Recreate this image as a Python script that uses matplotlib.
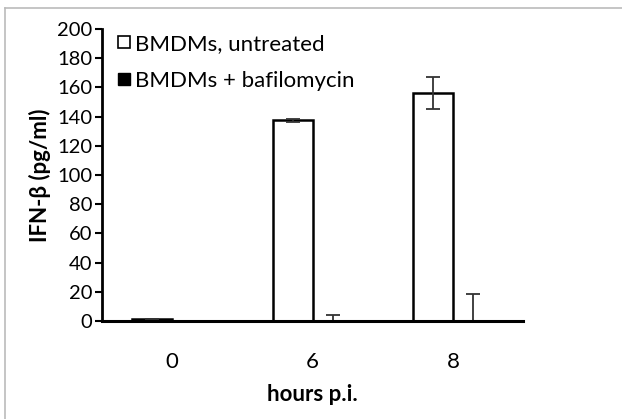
import numpy as np
import matplotlib.pyplot as plt
from matplotlib.lines import Line2D

hours = ["0", "6", "8"]
untreated = [1.5, 137.5, 156]
untreated_err = [0, 1, 11]
bafilomycin = [0.3, 0.3, 0.3]
bafilomycin_err = [0, 4, 18]

plt.rcParams["font.family"] = ["Lato", "DejaVu Sans"]

fig = plt.figure(figsize=(6.22, 4.19), dpi=100)
ax = fig.add_axes([0.164, 0.234, 0.677, 0.697])

x = np.arange(len(hours))
w = 0.285
ekw = dict(ecolor="#333333", elinewidth=1.3, capsize=5, capthick=1.3)
ax.bar(x - w / 2, untreated, w, color="white", edgecolor="black", linewidth=1.8,
       yerr=untreated_err, error_kw=ekw, label="BMDMs, untreated")
ax.bar(x + w / 2, bafilomycin, w, color="black", edgecolor="#cccccc", linewidth=1,
       yerr=[[0] * 3, bafilomycin_err], error_kw=ekw, label="BMDMs + bafilomycin")

ax.set_xlim(-0.5, 2.5)
ax.set_ylim(0, 200)
ax.set_yticks(range(0, 201, 20))
ax.set_xticks(x)
ax.set_xticklabels(hours)
ax.tick_params(axis="x", length=0, pad=22, labelsize=16)
ax.tick_params(axis="y", direction="out", length=5, width=1.5, labelsize=14.5, pad=2)
for s in ["top", "right"]:
    ax.spines[s].set_visible(False)
ax.spines["left"].set_linewidth(2)
ax.spines["bottom"].set_linewidth(2.2)

ax.set_ylabel("IFN-β (pg/ml)", fontsize=16, fontweight="bold", labelpad=4)
ax.set_xlabel("hours p.i.", fontsize=16, fontweight="bold", labelpad=9)

handles = [Line2D([], [], marker="s", ls="", markersize=9, markerfacecolor="white",
                  markeredgecolor="black", markeredgewidth=1.2),
           Line2D([], [], marker="s", ls="", markersize=9, markerfacecolor="black",
                  markeredgecolor="black")]
ax.legend(handles, ["BMDMs, untreated", "BMDMs + bafilomycin"], loc="upper left",
          bbox_to_anchor=(0.0, 1.035), frameon=False, fontsize=16, handlelength=0.6,
          handletextpad=0.2, labelspacing=0.75, borderaxespad=0.3)

# gray frame around the chart area
fig.add_artist(Line2D([5 / 622, 5 / 622], [0, 1 - 8 / 419], color="#bbbbbb", lw=1.2))
fig.add_artist(Line2D([5 / 622, 1], [1 - 8 / 419, 1 - 8 / 419], color="#bbbbbb", lw=1.2))

fig.savefig("out.png", dpi=100)
